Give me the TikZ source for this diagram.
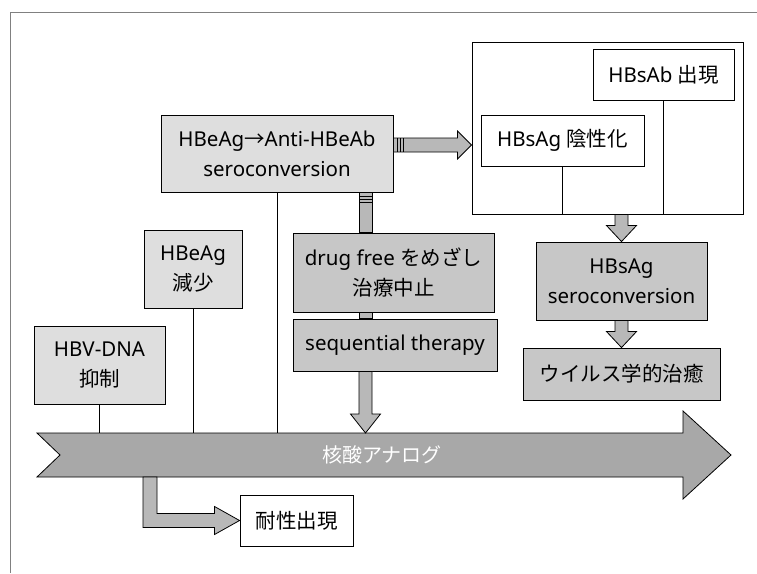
\documentclass[tikz,border=0pt]{standalone}
\usepackage{fontspec}
\setmainfont{Noto Sans}
\newfontfamily\jp{Noto Sans CJK JP}
\usetikzlibrary{calc}
\definecolor{boxLight}{gray}{0.87}
\definecolor{boxDark}{gray}{0.78}
\definecolor{bandGray}{gray}{0.66}
\definecolor{fatGray}{gray}{0.72}

\tikzset{
  box/.style={draw, line width=0.9pt, align=center, inner sep=0pt,
    font=\fontsize{20.5}{30}\selectfont},
  lightbox/.style={box, fill=boxLight},
  darkbox/.style={box, fill=boxDark},
  whitebox/.style={box, fill=white},
  fat/.style={draw, line width=0.8pt, fill=fatGray, line join=miter},
  band/.style={draw, line width=0.8pt, fill=bandGray}
}

% downward fat arrow: top, tip, head length
\newcommand{\fatdown}[3]{%
  \draw[fat] ($(#1)+(-6.5,0)$) -- ($(#2)+(-6.5,-#3)$) -- ($(#2)+(-15,-#3)$) -- (#2)
    -- ($(#2)+(15,-#3)$) -- ($(#2)+(6.5,-#3)$) -- ($(#1)+(6.5,0)$) -- cycle;}
% rightward fat arrow: start, tip, head length
\newcommand{\fatright}[3]{%
  \draw[fat] ($(#1)+(0,-7)$) -- ($(#2)+(-#3,-7)$) -- ($(#2)+(-#3,-14)$) -- (#2)
    -- ($(#2)+(-#3,14)$) -- ($(#2)+(-#3,7)$) -- ($(#1)+(0,7)$) -- cycle;}

\begin{document}
\begin{tikzpicture}[x=1pt, y=-1pt]
  \useasboundingbox (0,0) rectangle (757,573);
  \draw[gray, line width=0.6pt] (10,573) -- (10,12) -- (757,12);

  % time axis
  \coordinate (axis) at (0,433);
  \coordinate (axisB) at (0,477);
  \draw[band] (37,433) -- (683,433) -- (683,411) -- (731,455) -- (683,499)
    -- (683,477) -- (37,477) -- (60,455) -- cycle;
  \node[font=\fontsize{20}{24}\selectfont\jp, white] (drug) at (382,455) {核酸アナログ};

  % steps on the axis
  \node[lightbox, minimum width=131pt, minimum height=78pt] (hbvdna) at (99.5,365)
    {HBV-DNA\\{\jp 抑制}};
  \node[lightbox, minimum width=98pt, minimum height=78pt] (hbeag) at (193,269)
    {HBeAg\\{\jp 減少}};
  \node[lightbox, minimum width=232pt, minimum height=77pt] (seroA) at (277,153.5)
    {HBeAg{\jp →}Anti-HBeAb\\seroconversion};
  \draw[line width=0.8pt] (hbvdna.south) -- (hbvdna.south |- axis);
  \draw[line width=0.8pt] (hbeag.south) -- (hbeag.south |- axis);
  \draw[line width=0.8pt] (seroA.south) -- (seroA.south |- axis);

  \node[darkbox, minimum width=201pt, minimum height=79pt] (drugfree) at (393.5,272.5)
    {drug free {\jp をめざし}\\{\jp 治療中止}};
  \node[darkbox, minimum width=204pt, minimum height=52pt] (seq) at (395,345)
    {sequential therapy};

  % HBs side
  \node[whitebox, minimum width=271pt, minimum height=172pt] (bigbox) at (607.5,128) {};
  \node[whitebox, minimum width=141pt, minimum height=51pt] (hbsab) at (663.5,74.5)
    {HBsAb {\jp 出現}};
  \node[whitebox, minimum width=163pt, minimum height=51pt] (hbsag) at (562.5,140.5)
    {HBsAg {\jp 陰性化}};
  \draw[line width=0.8pt] (hbsab.south) -- (hbsab.south |- bigbox.south);
  \draw[line width=0.8pt] (hbsag.south) -- (hbsag.south |- bigbox.south);
  \node[darkbox, minimum width=171pt, minimum height=78pt] (hbsagsc) at (621.5,281)
    {HBsAg\\seroconversion};
  \node[darkbox, minimum width=197pt, minimum height=52pt] (cure) at (621.5,374)
    {{\jp ウイルス学的治癒}};
  \node[whitebox, minimum width=113pt, minimum height=51pt] (taisei) at (296.5,520.5)
    {{\jp 耐性出現}};

  % fat arrows
  \coordinate (vx) at (365.5,0);
  \coordinate (hy) at (0,145);
  \coordinate (lx) at (150,0);
  \draw[fat] ($(seroA.south -| vx)+(-6.5,0)$) rectangle ($(drugfree.north -| vx)+(6.5,0)$);
  \foreach \s in {4,7,10}
    \draw[line width=1pt] ($(seroA.south -| vx)+(-6.5,\s)$) -- ++(13,0);
  \draw[fat] ($(drugfree.south -| vx)+(-6.5,0)$) rectangle ($(seq.north -| vx)+(6.5,0)$);
  \fatdown{seq.south -| vx}{vx |- axis}{19}
  \fatright{seroA.east |- hy}{bigbox.west |- hy}{14}
  \foreach \s in {4,7,10}
    \draw[line width=1pt] ($(seroA.east |- hy)+(\s,-7)$) -- ++(0,14);
  \fatdown{bigbox.south -| hbsagsc.north}{hbsagsc.north}{16}
  \fatdown{hbsagsc.south}{cure.north}{16}
  \draw[fat] ($(lx |- axisB)+(-7,0)$) |- ($(taisei.west)+(-25,7)$)
    -- ($(taisei.west)+(-25,14)$) -- (taisei.west) -- ($(taisei.west)+(-25,-14)$)
    -- ($(taisei.west)+(-25,-7)$) -| ($(lx |- axisB)+(7,0)$) -- cycle;
\end{tikzpicture}
\end{document}
